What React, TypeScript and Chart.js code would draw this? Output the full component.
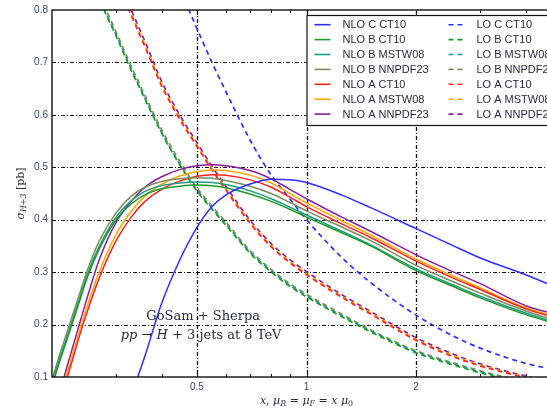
import React, { useEffect, useRef } from "react";
import { Chart, registerables } from "chart.js";

Chart.register(...registerables);

// Scale factor x = mu_R / mu_0 = mu_F / mu_0 at which each curve is sampled
const SCALE_FACTORS = [0.2, 0.21, 0.22, 0.23, 0.24, 0.25, 0.27, 0.3, 0.33, 0.36, 0.4, 0.45, 0.5, 0.55, 0.6, 0.7, 0.8, 0.9, 1, 1.25, 1.5, 2, 2.5, 3, 4, 5];

// NLO cross sections [pb]
const NLO_C_CT10 = [null, null, null, null, null, null, null, null, 0.065, 0.14, 0.24, 0.325, 0.385, 0.425, 0.447, 0.468, 0.477, 0.476, 0.471, 0.447, 0.423, 0.383, 0.352, 0.327, 0.295, 0.267];
const NLO_B_CT10 = [0.083, 0.13, 0.172, 0.213, 0.252, 0.29, 0.345, 0.4, 0.43, 0.448, 0.459, 0.464, 0.466, 0.465, 0.461, 0.449, 0.435, 0.42, 0.405, 0.375, 0.35, 0.303, 0.274, 0.251, 0.219, 0.199];
const NLO_B_MSTW08 = [0.088, 0.135, 0.177, 0.218, 0.257, 0.295, 0.35, 0.405, 0.436, 0.454, 0.465, 0.47, 0.472, 0.471, 0.467, 0.455, 0.44, 0.424, 0.409, 0.378, 0.352, 0.306, 0.277, 0.254, 0.222, 0.201];
const NLO_B_NNPDF23 = [0.095, 0.143, 0.186, 0.227, 0.266, 0.303, 0.36, 0.413, 0.445, 0.462, 0.473, 0.478, 0.48, 0.479, 0.475, 0.464, 0.45, 0.433, 0.417, 0.386, 0.36, 0.313, 0.283, 0.26, 0.226, 0.205];
const NLO_A_CT10 = [0.0, 0.05, 0.098, 0.143, 0.187, 0.225, 0.29, 0.36, 0.405, 0.435, 0.458, 0.474, 0.483, 0.486, 0.485, 0.476, 0.462, 0.443, 0.425, 0.392, 0.366, 0.321, 0.29, 0.267, 0.23, 0.21];
const NLO_A_MSTW08 = [0.01, 0.06, 0.108, 0.153, 0.197, 0.236, 0.302, 0.372, 0.416, 0.445, 0.468, 0.484, 0.492, 0.495, 0.494, 0.485, 0.47, 0.45, 0.432, 0.398, 0.371, 0.325, 0.294, 0.27, 0.232, 0.212];
const NLO_A_NNPDF23 = [0.02, 0.07, 0.12, 0.166, 0.21, 0.252, 0.325, 0.395, 0.435, 0.462, 0.482, 0.496, 0.503, 0.505, 0.503, 0.494, 0.478, 0.458, 0.44, 0.405, 0.378, 0.333, 0.302, 0.278, 0.236, 0.217];

// LO cross sections [pb]
const LO_C_CT10 = [null, null, null, null, null, null, null, null, null, null, 0.93, 0.84, 0.765, 0.7, 0.645, 0.552, 0.485, 0.44, 0.4, 0.328, 0.28, 0.218, 0.18, 0.155, 0.126, 0.112];
const LO_B_CT10 = [null, null, null, null, null, 0.88, 0.82, 0.75, 0.685, 0.63, 0.565, 0.503, 0.455, 0.42, 0.39, 0.336, 0.3, 0.273, 0.253, 0.215, 0.186, 0.146, 0.124, 0.108, 0.087, 0.075];
const LO_B_MSTW08 = [null, null, null, null, null, 0.885, 0.823, 0.753, 0.688, 0.632, 0.567, 0.505, 0.457, 0.422, 0.392, 0.338, 0.302, 0.275, 0.255, 0.217, 0.188, 0.148, 0.126, 0.11, 0.089, 0.077];
const LO_B_NNPDF23 = [null, null, null, null, null, 0.89, 0.83, 0.758, 0.693, 0.637, 0.572, 0.51, 0.461, 0.426, 0.396, 0.341, 0.305, 0.278, 0.258, 0.22, 0.19, 0.15, 0.128, 0.112, 0.091, 0.079];
const LO_A_CT10 = [null, null, null, null, null, null, 0.93, 0.858, 0.79, 0.73, 0.655, 0.59, 0.54, 0.495, 0.457, 0.393, 0.348, 0.318, 0.295, 0.252, 0.22, 0.17, 0.14, 0.121, 0.099, 0.085];
const LO_A_MSTW08 = [null, null, null, null, null, null, 0.933, 0.861, 0.793, 0.733, 0.658, 0.593, 0.542, 0.497, 0.459, 0.395, 0.35, 0.32, 0.297, 0.254, 0.222, 0.172, 0.142, 0.123, 0.1, 0.086];
const LO_A_NNPDF23 = [null, null, null, null, null, null, 0.94, 0.867, 0.8, 0.74, 0.664, 0.598, 0.547, 0.502, 0.464, 0.399, 0.354, 0.324, 0.301, 0.257, 0.225, 0.175, 0.145, 0.125, 0.102, 0.088];

// Axes
const X_MIN = 0.2;
const X_MAX = 5;
const X_LABELED_TICKS = [0.5, 1, 2];
const X_MINOR_TICKS = [0.3, 0.4, 0.6, 0.7, 0.8, 0.9, 3, 4];
const Y_MIN = 0.1;
const Y_MAX = 0.8;
const Y_GRID = [0.2, 0.3, 0.4, 0.5, 0.6, 0.7];

const BLUE = "#2f2fff";
const GREEN = "#1f9a2a";
const TEAL = "#1f9a86";
const OLIVE = "#7d8c5c";
const RED = "#ff2020";
const ORANGE = "#ffa500";
const PURPLE = "#8a1f9c";

const SERIES = [
  { label: "NLO C CT10", values: NLO_C_CT10, color: BLUE, dashed: false },
  { label: "NLO B CT10", values: NLO_B_CT10, color: GREEN, dashed: false },
  { label: "NLO B MSTW08", values: NLO_B_MSTW08, color: TEAL, dashed: false },
  { label: "NLO B NNPDF23", values: NLO_B_NNPDF23, color: OLIVE, dashed: false },
  { label: "NLO A CT10", values: NLO_A_CT10, color: RED, dashed: false },
  { label: "NLO A MSTW08", values: NLO_A_MSTW08, color: ORANGE, dashed: false },
  { label: "NLO A NNPDF23", values: NLO_A_NNPDF23, color: PURPLE, dashed: false },
  { label: "LO C CT10", values: LO_C_CT10, color: BLUE, dashed: true },
  { label: "LO B CT10", values: LO_B_CT10, color: GREEN, dashed: true },
  { label: "LO B MSTW08", values: LO_B_MSTW08, color: TEAL, dashed: true },
  { label: "LO B NNPDF23", values: LO_B_NNPDF23, color: OLIVE, dashed: true },
  { label: "LO A CT10", values: LO_A_CT10, color: RED, dashed: true },
  { label: "LO A MSTW08", values: LO_A_MSTW08, color: ORANGE, dashed: true },
  { label: "LO A NNPDF23", values: LO_A_NNPDF23, color: PURPLE, dashed: true },
];

const TEXT = "#2a2a3a";
const TICK_TEXT = "#3d4866";
const SERIF = "'DejaVu Serif', serif";
const DASH = [5, 4];

type Seg = { t: string; italic?: boolean; sub?: boolean };

function segFont(s: Seg, size: number) {
  const sz = s.sub ? size * 0.72 : size;
  return `${s.italic ? "italic " : ""}${sz}px ${SERIF}`;
}

function measureRich(ctx: CanvasRenderingContext2D, segs: Seg[], size: number) {
  let w = 0;
  for (const s of segs) {
    ctx.font = segFont(s, size);
    w += ctx.measureText(s.t).width;
  }
  return w;
}

// Draws a line of mixed roman / italic / subscript text centred on (cx, cy)
function drawRich(ctx: CanvasRenderingContext2D, segs: Seg[], size: number, cx: number, cy: number) {
  const total = measureRich(ctx, segs, size);
  let x = cx - total / 2;
  ctx.textBaseline = "middle";
  ctx.textAlign = "left";
  for (const s of segs) {
    ctx.font = segFont(s, size);
    ctx.fillText(s.t, x, cy + (s.sub ? size * 0.3 : 0));
    x += ctx.measureText(s.t).width;
  }
}

function line(ctx: CanvasRenderingContext2D, x1: number, y1: number, x2: number, y2: number) {
  ctx.beginPath();
  ctx.moveTo(x1, y1);
  ctx.lineTo(x2, y2);
  ctx.stroke();
}

const framePlugin = {
  id: "frameAndDecor",
  beforeDatasetsDraw(chart: any) {
    const { ctx, chartArea: a, scales } = chart;
    const xs = scales.x;
    const ys = scales.y;
    ctx.save();
    ctx.strokeStyle = "#111";
    ctx.lineWidth = 1;
    ctx.setLineDash([4, 2, 1, 2]);
    for (const v of Y_GRID) {
      const y = Math.round(ys.getPixelForValue(v)) + 0.5;
      line(ctx, a.left, y, a.right, y);
    }
    ctx.lineWidth = 1.3;
    for (const v of X_LABELED_TICKS) {
      const x = Math.round(xs.getPixelForValue(v)) + 0.5;
      line(ctx, x, a.top, x, a.bottom);
    }
    ctx.setLineDash([]);
    ctx.lineWidth = 1;
    for (const v of X_MINOR_TICKS) {
      const x = Math.round(xs.getPixelForValue(v)) + 0.5;
      line(ctx, x, a.bottom, x, a.bottom - 3);
      line(ctx, x, a.top, x, a.top + 3);
    }
    for (const v of X_LABELED_TICKS) {
      const x = Math.round(xs.getPixelForValue(v)) + 0.5;
      line(ctx, x, a.bottom, x, a.bottom - 5);
      line(ctx, x, a.top, x, a.top + 5);
    }
    ctx.restore();
  },
  afterDraw(chart: any) {
    const { ctx, chartArea: a } = chart;
    ctx.save();
    // plot frame
    ctx.strokeStyle = "#111";
    ctx.lineWidth = 1.4;
    ctx.strokeRect(a.left, a.top, a.right - a.left, a.bottom - a.top);

    // process annotation
    const w = a.right - a.left;
    const h = a.bottom - a.top;
    ctx.fillStyle = TEXT;
    drawRich(ctx, [{ t: "GoSam + Sherpa" }], 13, a.left + w * 0.297, a.top + h * 0.835);
    drawRich(
      ctx,
      [
        { t: "pp", italic: true },
        { t: " → " },
        { t: "H", italic: true },
        { t: " + 3 jets at 8 TeV" },
      ],
      13,
      a.left + w * 0.293,
      a.top + h * 0.887
    );

    // axis titles
    drawRich(
      ctx,
      [
        { t: "x", italic: true },
        { t: ", " },
        { t: "μ", italic: true },
        { t: "R", italic: true, sub: true },
        { t: " = " },
        { t: "μ", italic: true },
        { t: "F", italic: true, sub: true },
        { t: " = " },
        { t: "x", italic: true },
        { t: " " },
        { t: "μ", italic: true },
        { t: "0", sub: true },
      ],
      11,
      (a.left + a.right) / 2,
      401
    );
    ctx.save();
    ctx.translate(21, (a.top + a.bottom) / 2);
    ctx.rotate(-Math.PI / 2);
    drawRich(
      ctx,
      [
        { t: "σ", italic: true },
        { t: "H+3", italic: true, sub: true },
        { t: " [pb]" },
      ],
      11,
      0,
      0
    );
    ctx.restore();

    // legend box
    const lx = a.left + w / 2;
    const ly = a.top + 5;
    const lw = a.right - 5 - lx;
    const lh = 110;
    ctx.fillStyle = "#fff";
    ctx.fillRect(lx, ly, lw, lh);
    ctx.strokeStyle = "#111";
    ctx.lineWidth = 1.2;
    ctx.strokeRect(lx + 0.5, ly + 0.5, lw, lh);
    const rowH = 14.9;
    chart.data.datasets.forEach((ds: any, i: number) => {
      const col = i < 7 ? 0 : 1;
      const row = i % 7;
      const y = ly + 9.7 + row * rowH;
      const x0 = lx + 8 + col * 134;
      ctx.strokeStyle = ds.borderColor;
      ctx.lineWidth = 1.6;
      ctx.setLineDash(ds.borderDash || []);
      line(ctx, x0, y, x0 + 16, y);
      ctx.setLineDash([]);
      ctx.fillStyle = TEXT;
      ctx.font = "11px 'Liberation Sans', sans-serif";
      ctx.textAlign = "left";
      ctx.textBaseline = "middle";
      ctx.fillText(ds.label, x0 + 28, y + 0.5);
    });
    ctx.restore();
  },
};

export default function App() {
  const canvasRef = useRef<HTMLCanvasElement | null>(null);

  useEffect(() => {
    const canvas = canvasRef.current;
    if (!canvas) return;
    const datasets = SERIES.map((s) => ({
      label: s.label,
      data: SCALE_FACTORS.map((x, i) => ({ x, y: s.values[i] })),
      borderColor: s.color,
      backgroundColor: s.color,
      borderWidth: s.dashed ? 1.7 : 1.5,
      borderDash: s.dashed ? DASH : [],
      pointRadius: 0,
      fill: false,
      cubicInterpolationMode: "monotone" as const,
    }));

    const chart = new Chart(canvas, {
      type: "line",
      data: { datasets },
      plugins: [framePlugin],
      options: {
        responsive: false,
        animation: false,
        devicePixelRatio: 1,
        layout: { padding: { left: 0, top: 7, right: 39, bottom: 0 } },
        plugins: {
          legend: { display: false },
          tooltip: { enabled: false },
        },
        scales: {
          x: {
            type: "logarithmic",
            min: X_MIN,
            max: X_MAX,
            afterBuildTicks: (scale: any) => {
              scale.ticks = X_LABELED_TICKS.map((v) => ({ value: v }));
            },
            afterFit: (scale: any) => {
              scale.height = 32;
            },
            grid: { display: false, drawTicks: false },
            border: { display: false },
            ticks: {
              autoSkip: false,
              maxRotation: 0,
              padding: 4,
              color: TICK_TEXT,
              font: { family: "'Liberation Sans', sans-serif", size: 10 },
              callback: (v: any) => String(v),
            },
          },
          y: {
            type: "linear",
            min: Y_MIN,
            max: Y_MAX,
            afterFit: (scale: any) => {
              scale.width = 52;
            },
            grid: { display: false, drawTicks: false },
            border: { display: false },
            ticks: {
              stepSize: 0.1,
              padding: 4,
              color: TICK_TEXT,
              font: { family: "'Liberation Sans', sans-serif", size: 10 },
              callback: (v: any) => Number(v).toFixed(1),
            },
          },
        },
      },
    });
    return () => chart.destroy();
  }, []);

  return (
    <div
      style={{
        position: "fixed",
        left: 0,
        top: 0,
        width: 547,
        height: 409,
        overflow: "hidden",
        background: "#fff",
      }}
    >
      <canvas ref={canvasRef} width={600} height={409} style={{ display: "block" }} />
    </div>
  );
}
